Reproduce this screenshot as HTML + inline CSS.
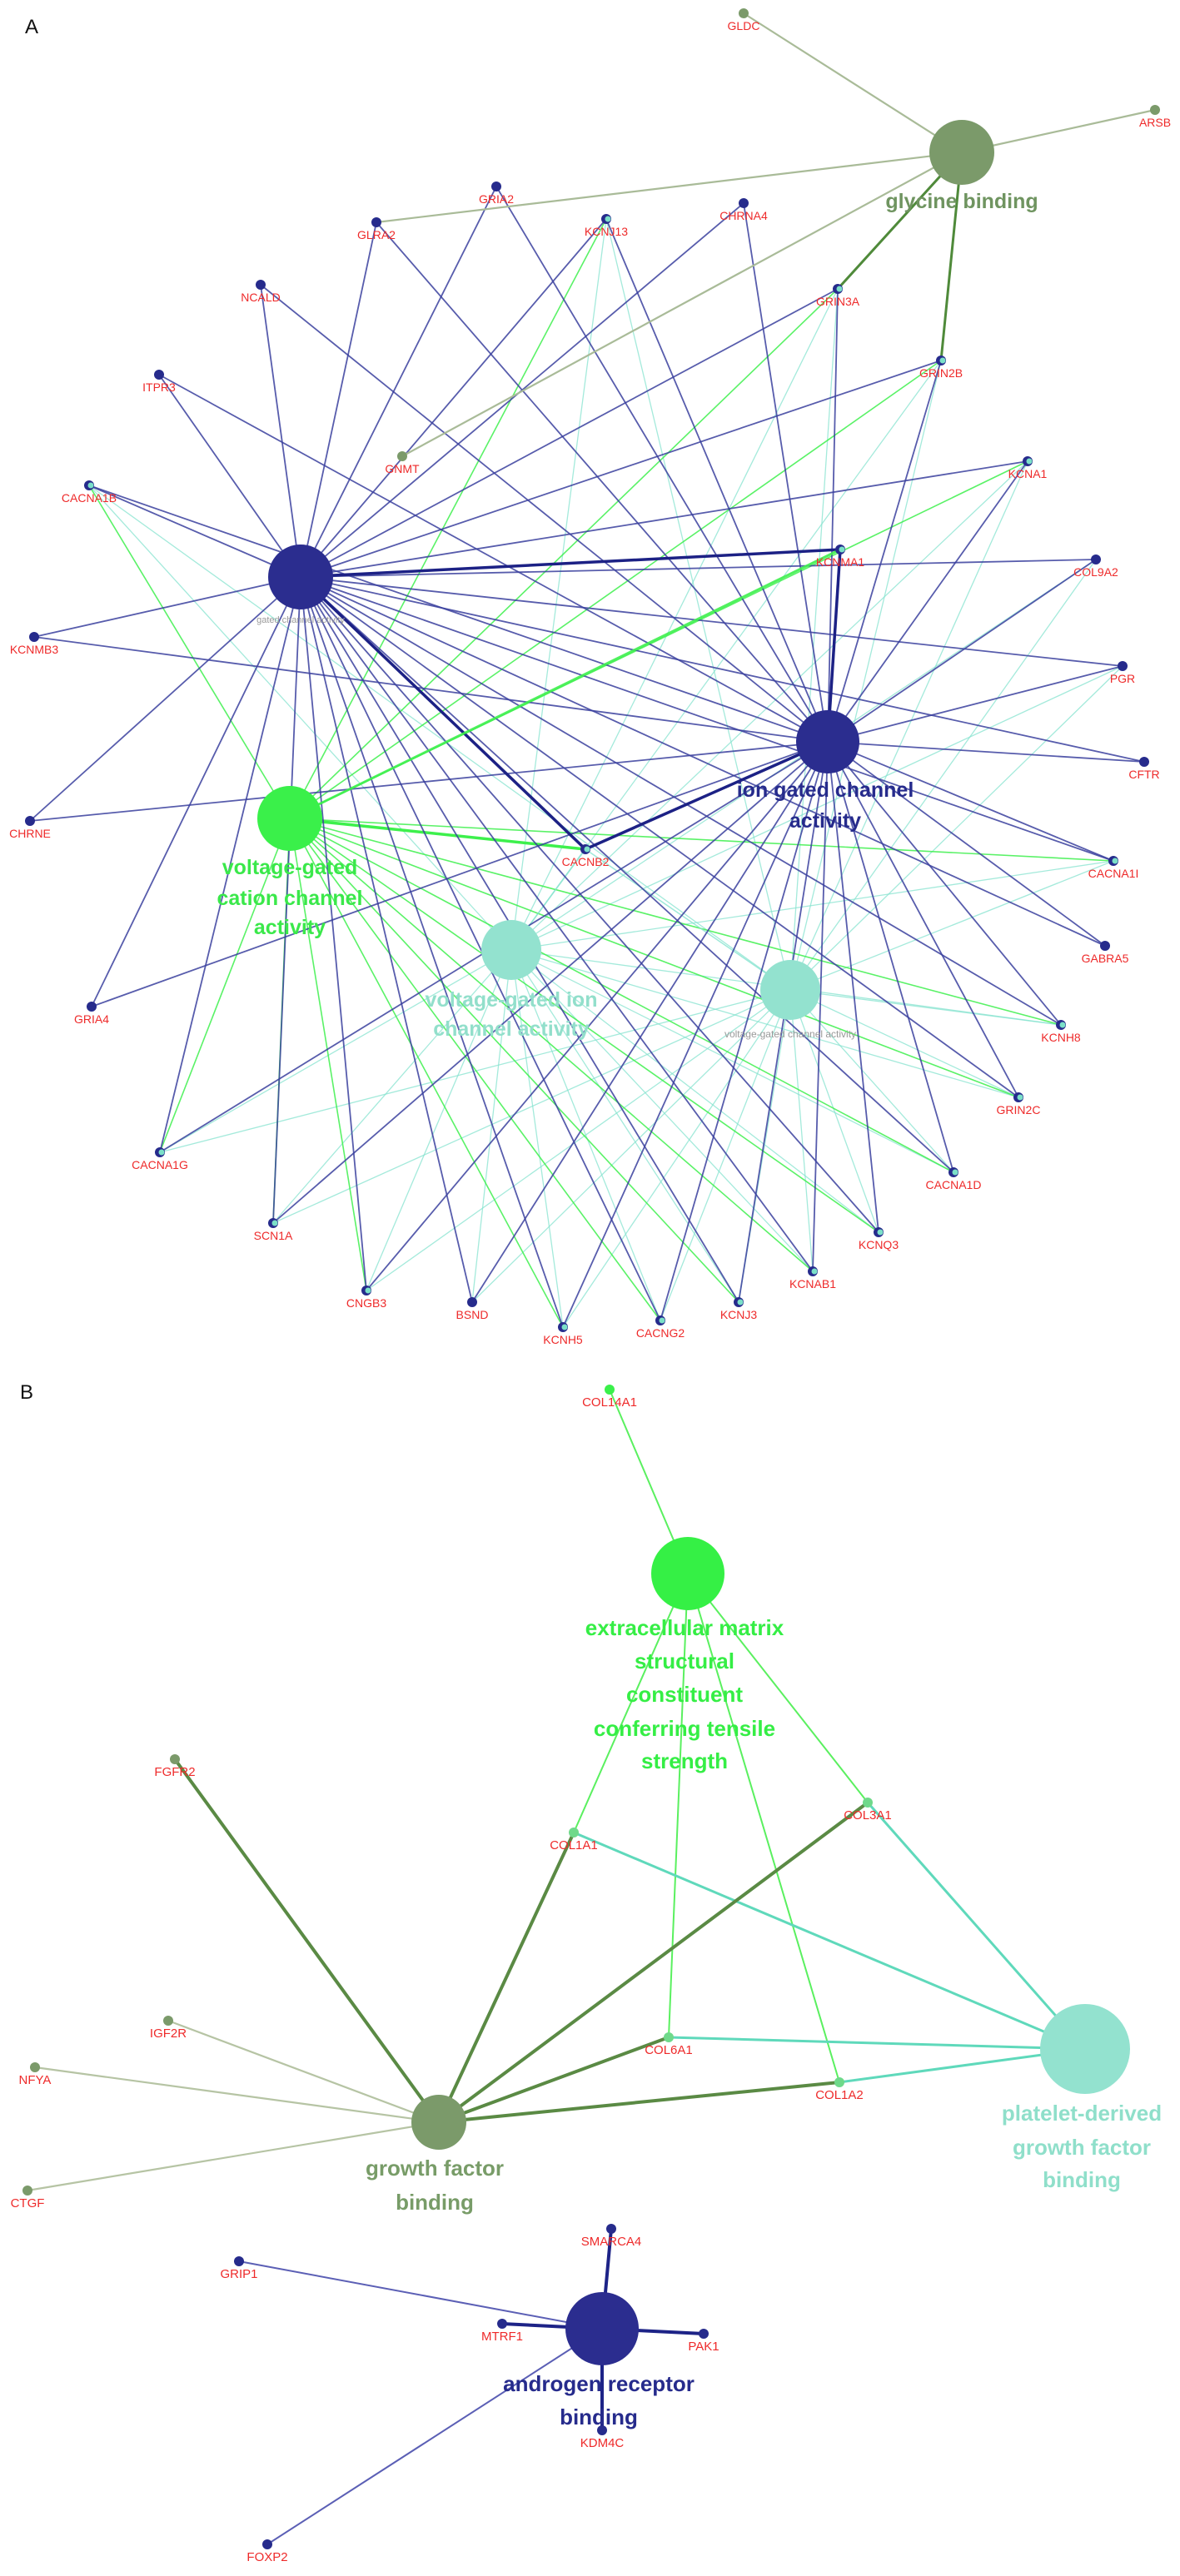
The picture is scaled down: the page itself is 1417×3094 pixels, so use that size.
<!DOCTYPE html>
<html><head><meta charset="utf-8"><style>
html,body{margin:0;padding:0;background:#fff}
svg{display:block}
text{font-family:"Liberation Sans",sans-serif}
.g{fill:#ee2a2a;font-size:14px;text-anchor:middle}
.gb{fill:#ee2a2a;font-size:15px;text-anchor:middle}
</style></head><body>
<svg id="s" width="1417" height="3094" viewBox="0 0 1417 3094" xmlns="http://www.w3.org/2000/svg">
<g id="edges"></g><g id="nodes"></g><g id="labels"></g>
<text x="30" y="40" font-size="24" fill="#111">A</text>
<text x="24" y="1680" font-size="24" fill="#111">B</text>
<!-- hub labels A -->
<text x="1155" y="250" font-size="25" font-weight="bold" fill="#6f9460" text-anchor="middle">glycine binding</text>
<text x="361" y="748" font-size="11" fill="#999" text-anchor="middle">gated channel activity</text>
<text x="991" y="957" font-size="25" font-weight="bold" fill="#262b8c" text-anchor="middle">ion gated channel</text>
<text x="991" y="994" font-size="25" font-weight="bold" fill="#262b8c" text-anchor="middle">activity</text>
<text x="348" y="1050" font-size="25" font-weight="bold" fill="#3ae84a" text-anchor="middle">voltage-gated</text>
<text x="348" y="1087" font-size="25" font-weight="bold" fill="#3ae84a" text-anchor="middle">cation channel</text>
<text x="348" y="1122" font-size="25" font-weight="bold" fill="#3ae84a" text-anchor="middle">activity</text>
<text x="614" y="1209" font-size="25" font-weight="bold" fill="#92dfcb" text-anchor="middle">voltage-gated ion</text>
<text x="614" y="1244" font-size="25" font-weight="bold" fill="#92dfcb" text-anchor="middle">channel activity</text>
<text x="949" y="1246" font-size="12" fill="#999" text-anchor="middle">voltage-gated channel activity</text>
<!-- hub labels B -->
<g font-size="26" font-weight="bold" fill="#35ee45" text-anchor="middle">
<text x="822" y="1964">extracellular matrix</text>
<text x="822" y="2004">structural</text>
<text x="822" y="2044">constituent</text>
<text x="822" y="2085">conferring tensile</text>
<text x="822" y="2124">strength</text>
</g>
<g font-size="26" font-weight="bold" fill="#8fdfca" text-anchor="middle">
<text x="1299" y="2547">platelet-derived</text>
<text x="1299" y="2588">growth factor</text>
<text x="1299" y="2627">binding</text>
</g>
<g font-size="26" font-weight="bold" fill="#789c68" text-anchor="middle">
<text x="522" y="2613">growth factor</text>
<text x="522" y="2654">binding</text>
</g>
<g font-size="26" font-weight="bold" fill="#262b8c" text-anchor="middle">
<text x="719" y="2872">androgen receptor</text>
<text x="719" y="2912">binding</text>
</g>
</svg>
<script>
const NS="http://www.w3.org/2000/svg";
const E=document.getElementById("edges"),N=document.getElementById("nodes"),L=document.getElementById("labels");
function line(a,b,c,w,o){const l=document.createElementNS(NS,"line");l.setAttribute("x1",a[0]);l.setAttribute("y1",a[1]);l.setAttribute("x2",b[0]);l.setAttribute("y2",b[1]);l.setAttribute("stroke",c);l.setAttribute("stroke-width",w);l.setAttribute("stroke-opacity",o);E.appendChild(l);}
function circ(p,r,c,par){const e=document.createElementNS(NS,"circle");e.setAttribute("cx",p[0]);e.setAttribute("cy",p[1]);e.setAttribute("r",r);e.setAttribute("fill",c);(par||N).appendChild(e);}
function lab(t,p,cls){const e=document.createElementNS(NS,"text");e.setAttribute("x",p[0]);e.setAttribute("y",p[1]+20);e.setAttribute("class",cls);e.textContent=t;L.appendChild(e);}
const G={GLDC:[893,16],ARSB:[1387,132],GRIA2:[596,224],GLRA2:[452,267],KCNJ13:[728,263],CHRNA4:[893,244],NCALD:[313,342],GRIN3A:[1006,347],GRIN2B:[1130,433],ITPR3:[191,450],GNMT:[483,548],KCNA1:[1234,554],CACNA1B:[107,583],KCNMA1:[1009,660],COL9A2:[1316,672],KCNMB3:[41,765],PGR:[1348,800],CFTR:[1374,915],CHRNE:[36,986],CACNB2:[703,1020],CACNA1I:[1337,1034],GABRA5:[1327,1136],GRIA4:[110,1209],KCNH8:[1274,1231],GRIN2C:[1223,1318],CACNA1G:[192,1384],CACNA1D:[1145,1408],SCN1A:[328,1469],KCNQ3:[1055,1480],KCNAB1:[976,1527],CNGB3:[440,1550],BSND:[567,1564],KCNJ3:[887,1564],KCNH5:[676,1594],CACNG2:[793,1586]};
const H1=[361,693],H2=[994,891],H3=[348,983],H4=[614,1141],H5=[949,1189],GB=[1155,183];
const blue="#3a3f9e",grn="#3df04c",teal="#86e3cf",olv="#a9bb98",dg="#4f8a3a";
const ion=["GRIA2","GLRA2","KCNJ13","CHRNA4","NCALD","GRIN3A","GRIN2B","ITPR3","KCNA1","CACNA1B","COL9A2","KCNMB3","PGR","CFTR","CHRNE","CACNA1I","GABRA5","GRIA4","KCNH8","GRIN2C","CACNA1G","CACNA1D","SCN1A","KCNQ3","KCNAB1","CNGB3","BSND","KCNJ3","KCNH5","CACNG2"];
const volt=["KCNJ13","GRIN3A","GRIN2B","KCNA1","CACNA1B","CACNA1I","KCNH8","GRIN2C","CACNA1G","CACNA1D","KCNQ3","KCNAB1","CNGB3","KCNJ3","KCNH5","CACNG2","SCN1A"];
const vion=volt.concat(["COL9A2","PGR","BSND"]);
vion.forEach(k=>{line(H4,G[k],teal,1.3,0.75);line(H5,G[k],teal,1.3,0.75);});
volt.forEach(k=>line(H3,G[k],grn,1.6,0.85));
line(H3,G.CACNB2,grn,3.5,1);line(H4,G.CACNB2,teal,1.5,.8);line(H5,G.CACNB2,teal,1.5,.8);
ion.forEach(k=>{line(H1,G[k],blue,1.8,0.85);line(H2,G[k],blue,1.8,0.85);});
line(H1,G.KCNMA1,"#1c2185",3.5,1);line(H2,G.KCNMA1,"#1c2185",3.5,1);
line(H1,G.CACNB2,"#1c2185",3.5,1);line(H2,G.CACNB2,"#1c2185",3.5,1);
line(H3,G.KCNMA1,grn,3,.9);
["GLDC","ARSB","GLRA2","GNMT"].forEach(k=>line(GB,G[k],olv,2.2,1));
line(GB,G.GRIN3A,dg,3,1);line(GB,G.GRIN2B,dg,3,1);
for(const k in G){let c="#262b8c";if(["GLDC","ARSB","GNMT"].includes(k))c="#7b9a6a";circ(G[k],6,c);
 if(volt.includes(k)||k=="CACNB2"||k=="KCNMA1"){circ([G[k][0]+2,G[k][1]],3.5,"#7be0c8");}
 lab(k,G[k],"g");}
circ(GB,39,"#7b9a6a");circ(H1,39,"#2b2d8f");circ(H2,38,"#2b2d8f");circ(H3,39,"#3af04a");circ(H4,36,"#93e2cf");circ(H5,36,"#93e2cf");
// Panel B
const B={COL14A1:[732,1669],FGFR2:[210,2113],COL3A1:[1042,2165],COL1A1:[689,2201],IGF2R:[202,2427],COL6A1:[803,2447],NFYA:[42,2483],COL1A2:[1008,2501],CTGF:[33,2631],SMARCA4:[734,2677],GRIP1:[287,2716],MTRF1:[603,2791],PAK1:[845,2803],KDM4C:[723,2919],FOXP2:[321,3056]};
const EC=[826,1890],PD=[1303,2461],GF=[527,2549],AR=[723,2797];
["COL14A1","COL1A1","COL3A1","COL6A1","COL1A2"].forEach(k=>line(EC,B[k],"#5af05f",2,1));
["COL1A1","COL3A1","COL6A1","COL1A2"].forEach(k=>line(PD,B[k],"#5fd9bb",3,1));
["FGFR2","COL1A1","COL3A1","COL6A1","COL1A2"].forEach(k=>line(GF,B[k],"#5a8a44",4,1));
["IGF2R","NFYA","CTGF"].forEach(k=>line(GF,B[k],"#b6c4a4",2.2,1));
["SMARCA4","MTRF1","PAK1","KDM4C"].forEach(k=>line(AR,B[k],"#1d2387",4,1));
["GRIP1","FOXP2"].forEach(k=>line(AR,B[k],"#5b5fb5",2,1));
for(const k in B){let c="#262b8c";
 if(["FGFR2","IGF2R","NFYA","CTGF"].includes(k))c="#7b9a6a";
 if(k=="COL14A1")c="#3af04a";
 if(k.startsWith("COL")&&k!="COL14A1")c="#6fd98a";
 circ(B[k],6,c);lab(k,B[k],"gb");}
circ(EC,44,"#35f045");circ(PD,54,"#93e2cf");circ(GF,33,"#7b9a6a");circ(AR,44,"#2b2d8f");
</script>
</body></html>
